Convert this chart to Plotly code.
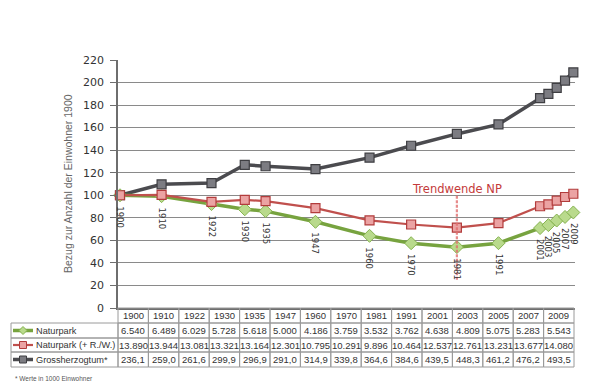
import plotly.graph_objects as go

years = [1900, 1910, 1922, 1930, 1935, 1947, 1960, 1970, 1981, 1991, 2001, 2003, 2005, 2007, 2009]
naturpark = [6540, 6489, 6029, 5728, 5618, 5000, 4186, 3759, 3532, 3762, 4638, 4809, 5075, 5283, 5543]
naturpark_rw = [13890, 13944, 13081, 13321, 13164, 12301, 10795, 10291, 9896, 10464, 12537, 12761, 13231, 13677, 14080]
gross = [236.1, 259.0, 261.6, 299.9, 296.9, 291.0, 314.9, 339.8, 364.6, 384.6, 439.5, 448.3, 461.2, 476.2, 493.5]
series_names = ["Naturpark", "Naturpark (+ R./W.)", "Grossherzogtum*"]
trend_year = 1981
trend_label = "Trendwende NP"
y_title = "Bezug zur Anzahl der Einwohner 1900"
footnote = "* Werte in 1000 Einwohner"

W, H = 603, 385
L, R, T, B = 118, 28, 60, 77
PW, PH = W - L - R, H - T - B


def px(x):
    return (x - L) / PW


def py(y):
    return (H - B - y) / PH


def idx(vals):
    return [v / vals[0] * 100 for v in vals]


def fmt_int(v):
    return f"{v:,}".replace(",", ".")


def fmt_dec(v):
    return f"{v:.1f}".replace(".", ",")


np_idx = idx(naturpark)
rw_idx = idx(naturpark_rw)
gr_idx = idx(gross)

C_GR, C_GR_F, C_GR_O = "#4b4b4f", "#7c7c82", "#3e3e42"
C_RD, C_RD_F, C_RD_O = "#c0504d", "#eba3a3", "#b23c3c"
C_GN, C_GN_F, C_GN_O = "#77a33f", "#b9da8c", "#86b350"

fig = go.Figure()
fig.add_trace(go.Scatter(x=years, y=gr_idx, mode="lines+markers", cliponaxis=False,
                         line=dict(color=C_GR, width=3.5),
                         marker=dict(symbol="square", size=9, color=C_GR_F, line=dict(color=C_GR_O, width=1.2))))
fig.add_trace(go.Scatter(x=years, y=np_idx, mode="lines+markers", cliponaxis=False,
                         line=dict(color=C_GN, width=3.5),
                         marker=dict(symbol="diamond", size=10, color=C_GN_F, line=dict(color=C_GN_O, width=1))))
fig.add_trace(go.Scatter(x=years, y=rw_idx, mode="lines+markers", cliponaxis=False,
                         line=dict(color=C_RD, width=2.2),
                         marker=dict(symbol="square", size=9, color=C_RD_F, line=dict(color=C_RD_O, width=1.2))))

ann = []
shapes = []
# rotated year labels under the points
for yr, v in zip(years, np_idx):
    ann.append(dict(x=yr, y=v, xref="x", yref="y", text=str(yr), textangle=90, showarrow=False,
                    xanchor="center", yanchor="top", yshift=-9,
                    font=dict(family="DejaVu Sans", size=8.5, color="#333333")))

# Trendwende marker
shapes.append(dict(type="line", xref="x", yref="y", x0=trend_year, x1=trend_year, y0=25, y1=101,
                   line=dict(color="rgba(225,110,110,0.8)", width=2.2, dash="3px,1.5px"), layer="above"))
ann.append(dict(x=trend_year, y=105.5, xref="x", yref="y", text=trend_label, showarrow=False,
                xanchor="center", yanchor="middle",
                font=dict(family="DejaVu Sans", size=11.5, color="#c43a3a")))

# y axis title
ann.append(dict(x=0, y=0.5, xref="paper", yref="paper", text=y_title, textangle=-90, showarrow=False,
                xanchor="center", yanchor="middle", xshift=-50,
                font=dict(family="Liberation Sans", size=10.5, color="#666666")))

# data table
ncol = len(years)
tx0, tx1 = 118, 574
cw = (tx1 - tx0) / ncol
row_edges = [308, 323, 338, 352, 367]
border = "#9a9a9a"
cell_font = dict(family="Liberation Sans", size=9.5, color="#333333")
label_font = dict(family="Liberation Sans", size=9.2, color="#333333")
rows = [
    [str(y) for y in years],
    [fmt_int(v) for v in naturpark],
    [fmt_int(v) for v in naturpark_rw],
    [fmt_dec(v) for v in gross],
]
for r, row in enumerate(rows):
    y0p, y1p = row_edges[r], row_edges[r + 1]
    for c, txt in enumerate(row):
        x0p, x1p = tx0 + c * cw, tx0 + (c + 1) * cw
        shapes.append(dict(type="rect", xref="paper", yref="paper", x0=px(x0p), x1=px(x1p),
                           y0=py(y1p), y1=py(y0p), line=dict(color=border, width=1)))
        ann.append(dict(x=px((x0p + x1p) / 2), y=py((y0p + y1p) / 2), xref="paper", yref="paper",
                        text=txt, showarrow=False, xanchor="center", yanchor="middle", font=cell_font))

legend_styles = [
    (C_GN, C_GN_F, C_GN_O, "diamond", 3.5),
    (C_RD, C_RD_F, C_RD_O, "square", 2.2),
    (C_GR, C_GR_F, C_GR_O, "square", 3.5),
]
for i, name in enumerate(series_names):
    y0p, y1p = row_edges[i + 1], row_edges[i + 2]
    ym = (y0p + y1p) / 2
    shapes.append(dict(type="rect", xref="paper", yref="paper", x0=px(11), x1=px(118),
                       y0=py(y1p), y1=py(y0p), line=dict(color=border, width=1)))
    lc, fc, oc, sym, lw = legend_styles[i]
    shapes.append(dict(type="line", xref="paper", yref="paper", x0=px(13), x1=px(33),
                       y0=py(ym), y1=py(ym), line=dict(color=lc, width=lw)))
    if sym == "square":
        shapes.append(dict(type="rect", xref="paper", yref="paper", x0=px(19.5), x1=px(26.5),
                           y0=py(ym + 3.5), y1=py(ym - 3.5), fillcolor=fc, line=dict(color=oc, width=1)))
    else:
        path = (f"M {px(23)},{py(ym - 4)} L {px(27)},{py(ym)} L {px(23)},{py(ym + 4)} "
                f"L {px(19)},{py(ym)} Z")
        shapes.append(dict(type="path", xref="paper", yref="paper", path=path,
                           fillcolor=fc, line=dict(color=oc, width=1)))
    ann.append(dict(x=px(33.5), y=py(ym), xref="paper", yref="paper", text=name, showarrow=False,
                    xanchor="left", yanchor="middle", font=label_font))

ann.append(dict(x=px(13), y=py(378), xref="paper", yref="paper", text=footnote, showarrow=False,
                xanchor="left", yanchor="middle",
                font=dict(family="Liberation Sans", size=6.5, color="#555555")))

fig.update_layout(
    width=W, height=H, margin=dict(l=L, r=R, t=T, b=B),
    paper_bgcolor="white", plot_bgcolor="white", showlegend=False,
    annotations=ann, shapes=shapes,
    xaxis=dict(range=[1899.52, 2009.4], showgrid=False, zeroline=False, showticklabels=False,
               ticks="", showline=True, linecolor="#6e6e6e", linewidth=1.5),
    yaxis=dict(range=[0, 220], dtick=20, showgrid=True, gridcolor="#8a8a8a", gridwidth=1,
               zeroline=False, showline=True, linecolor="#6e6e6e", linewidth=1.5,
               ticks="outside", ticklen=6, tickcolor="#6e6e6e", ticklabelstandoff=4,
               tickfont=dict(family="DejaVu Sans", size=11, color="#333333")),
)

fig.write_html("out.html", config={"displayModeBar": False},
               post_script="document.body.style.margin='0';document.body.style.overflow='hidden';")
